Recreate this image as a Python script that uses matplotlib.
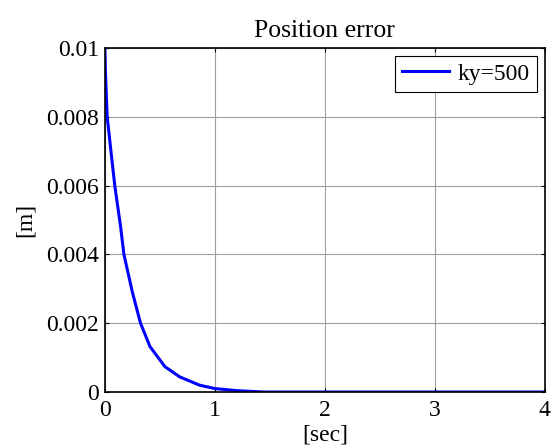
import matplotlib.pyplot as plt

# Position error for ky=500
t = [0, 0.005, 0.021, 0.055, 0.09, 0.143, 0.173, 0.25, 0.324, 0.41, 0.545,
     0.68, 0.86, 1.0, 1.2, 1.45, 2.0, 3.0, 4.0]
err = [0.01, 0.0093, 0.008, 0.007, 0.006, 0.0048, 0.004, 0.0029, 0.002,
       0.00132, 0.00074, 0.00044, 0.0002, 0.0001, 0.00004, 0.0, 0.0, 0.0, 0.0]

xticks = [0, 1, 2, 3, 4]
yticks = [0, 0.002, 0.004, 0.006, 0.008, 0.01]
ytick_labels = ['0', '0.002', '0.004', '0.006', '0.008', '0.01']

plt.rcParams['font.family'] = ['Liberation Serif', 'DejaVu Serif']
plt.rcParams['font.size'] = 17

fig = plt.figure(figsize=(5.52, 4.47), dpi=100)
ax = fig.add_axes([0.190, 0.123, 0.797, 0.770])

ax.plot(t, err, color='blue', lw=2.2, label='ky=500')

ax.set_xlim(0, 4)
ax.set_ylim(0, 0.01)
ax.set_xticks(xticks)
ax.set_xticklabels([str(v) for v in xticks])
ax.set_yticks(yticks)
ax.set_yticklabels(ytick_labels)
ax.tick_params(direction='in', top=True, right=True, length=3, width=0.8)
ax.tick_params(axis='y', pad=4)
ax.tick_params(axis='x', pad=6)
ax.grid(True, color='#a0a0a0', lw=0.8)
for s in ax.spines.values():
    s.set_linewidth(1.2)

ax.set_title('Position error', fontsize=18.5, pad=8)
ax.set_xlabel('[sec]', labelpad=2)
ax.set_ylabel('[m]', labelpad=8)

leg = ax.legend(loc='upper right', fancybox=False, framealpha=1, edgecolor='black',
                borderpad=0.3, handlelength=2.0, handletextpad=0.35,
                borderaxespad=0.35)
leg.get_frame().set_linewidth(0.8)

fig.savefig('out.png', dpi=100)
